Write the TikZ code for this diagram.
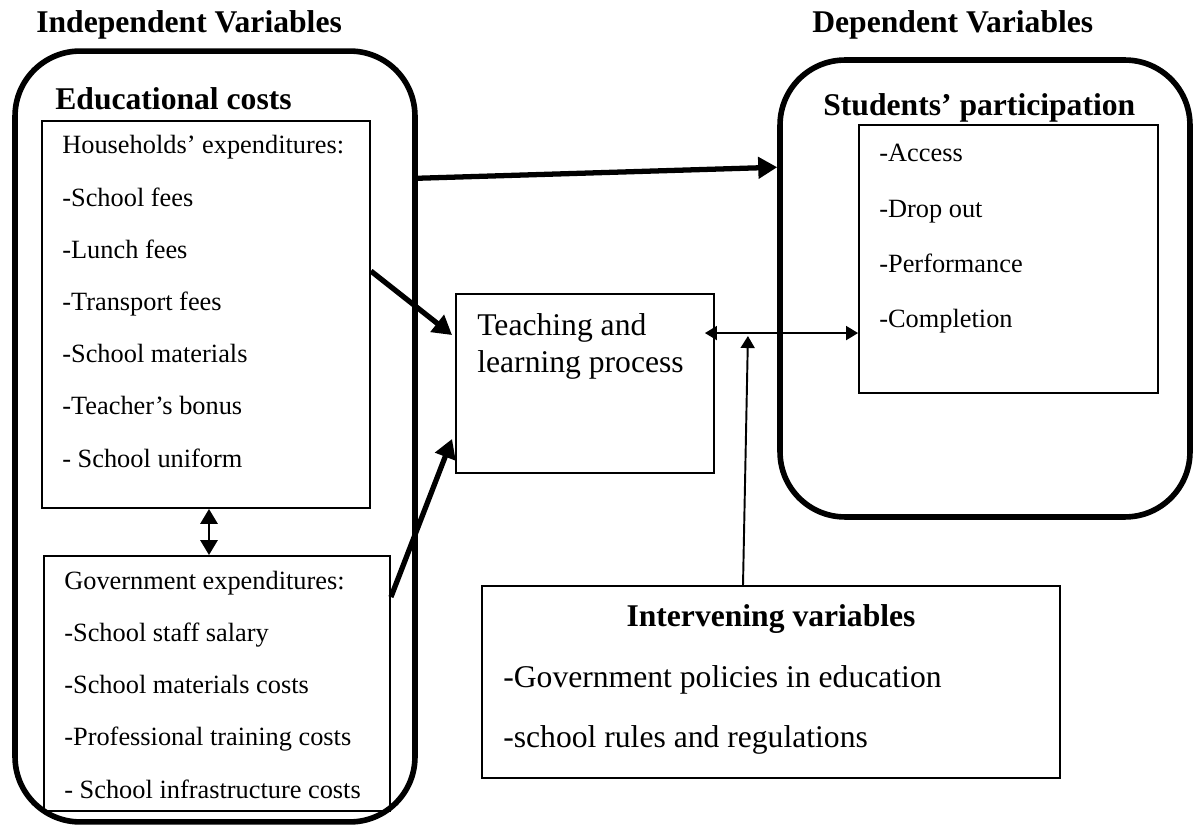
\documentclass[tikz,border=0pt]{standalone}
\usepackage{fontspec}
\setmainfont{Liberation Serif}
\usepackage{tikz}
\usetikzlibrary{calc,arrows.meta}

\tikzset{
  outerbox/.style={draw, line width=3.2pt, rounded corners=1.3cm, inner sep=0pt},
  listbox/.style={draw, line width=1.1pt, inner sep=0pt},
  heading/.style={font=\fontsize{18}{22}\selectfont\bfseries, inner sep=0pt, anchor=base west},
  % multi-line lists sit on the baseline of their last line
  listtext/.style={font=\fontsize{15}{29.7}\selectfont, align=left, inner sep=0pt, anchor=base west},
  bigarrow/.style={line width=3pt, -{Triangle[length=0.38cm,width=0.42cm]}},
  oneway/.style={line width=1.1pt, -{Triangle[length=0.24cm,width=0.28cm]}},
  twoway/.style={line width=1.1pt, {Triangle[length=0.24cm,width=0.28cm]}-{Triangle[length=0.24cm,width=0.28cm]}},
}

\begin{document}
\begin{tikzpicture}[x=0.02cm,y=-0.02cm]
    \useasboundingbox (0,0) rectangle (1197,827);

    % -- Column headings --
    \node[heading] (indtitle) at (36,33) {Independent Variables};
    \node[heading] (deptitle) at (812,33) {Dependent Variables};

    % -- Independent side: educational costs --
    \node[outerbox, minimum width=8cm, minimum height=15.42cm] (indep) at (215,436.5) {};
    \node[heading] (costs) at (55,110) {Educational costs};

    % Households' expenditures
    \node[listbox, minimum width=6.56cm, minimum height=7.74cm] (hh) at (206,314.5) {};
    \node[listtext] (hhlist) at (62,467)
        {Households' expenditures:\\-School fees\\-Lunch fees\\-Transport fees\\
         -School materials\\-Teacher's bonus\\- School uniform};

    % Government expenditures
    \node[listbox, minimum width=6.92cm, minimum height=5.1cm] (gov) at (217,683.5) {};
    \node[listtext] (govlist) at (64,798)
        {Government expenditures:\\-School staff salary\\-School materials costs\\
         -Professional training costs\\- School infrastructure costs};

    % -- Teaching and learning process in the middle --
    \node[listbox, minimum width=5.16cm, minimum height=3.58cm] (tlp) at (585,383.5) {};
    \node[listtext, font=\fontsize{18}{21.6}\selectfont] (tlptext) at (477,373)
        {Teaching and\\learning process};

    % -- Dependent side: students' participation --
    \node[outerbox, minimum width=8.2cm, minimum height=9.14cm] (dep) at (985,288.5) {};
    \node[listbox, minimum width=5.98cm, minimum height=5.36cm] (part) at (1008.5,259) {};
    \node[heading] (parttitle) at (823,116) {Students' participation};
    \node[listtext, font=\fontsize{15}{31.5}\selectfont] (partlist) at (879,328)
        {-Access\\-Drop out\\-Performance\\-Completion};

    % -- Intervening variables at the bottom --
    \node[listbox, minimum width=11.56cm, minimum height=3.84cm] (iv) at (771,682) {};
    \node[heading, anchor=base] (ivtitle) at ($(iv.north)+(0,41)$) {Intervening variables};
    \node[listtext, font=\fontsize{18}{33.6}\selectfont] (ivlist) at (503,747)
        {-Government policies in education\\-school rules and regulations};

    % -- Arrows --
    % costs straight to participation
    \draw[bigarrow] ($(indep.north east)+(0,130)$) -- ($(dep.north west)+(0,110)$);

    % both kinds of expenditure into the teaching process
    \draw[bigarrow] ($(hh.north east)+(0,151)$) -- ($(tlp.north west)+(-3,42)$);
    \draw[bigarrow] ($(gov.north east)+(0,42)$) -- ($(tlp.south west)+(-3,-35)$);

    % households <-> government
    \draw[line width=1.7pt, {Triangle[length=0.3cm,width=0.34cm]}-{Triangle[length=0.3cm,width=0.34cm]}]
        ($(hh.south)+(3,0)$) -- ($(hh.south |- gov.north)+(3,0)$);

    % teaching process <-> participation
    \coordinate (link) at ($(tlp.north east)+(-10,40)$);
    \draw[twoway] (link) -- (link -| part.west);

    % intervening variables act on that link
    \draw[oneway] ($(iv.north)+(-28,0)$) -- ($(link)+(43,3)$);

\end{tikzpicture}
\end{document}
